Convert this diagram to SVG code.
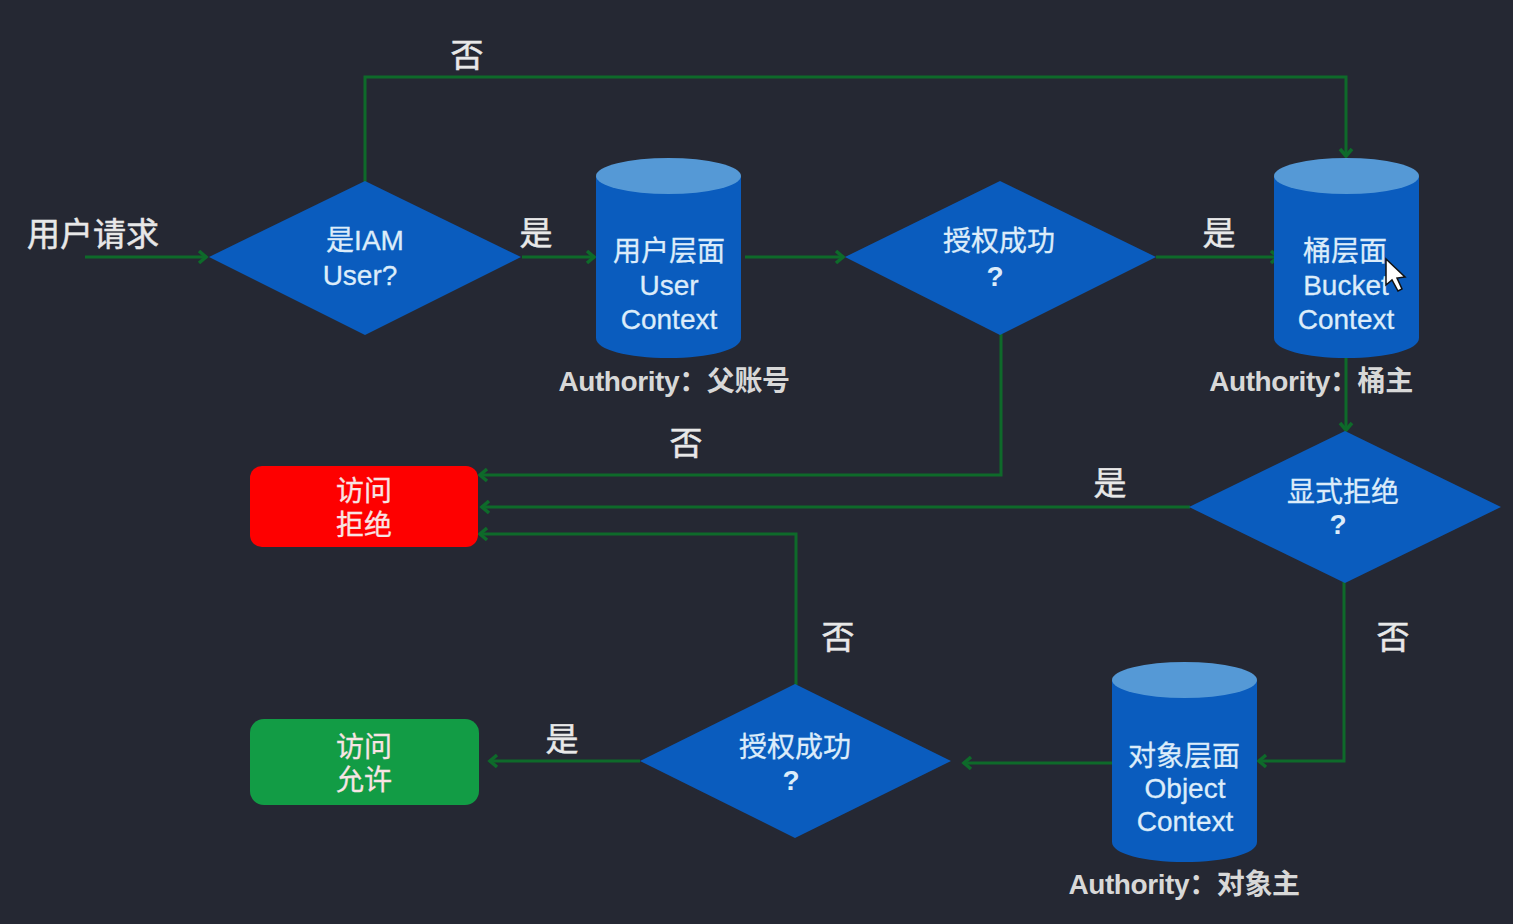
<svg xmlns="http://www.w3.org/2000/svg" width="1513" height="924" viewBox="0 0 1513 924">
<style>
text{font-family:"Liberation Sans","Noto Sans CJK SC",sans-serif;text-anchor:middle}
.n{font-size:28px;fill:#dcecfa;stroke:#dcecfa;stroke-width:.3px}
.w{font-size:28px;fill:#f8e4e4;stroke:#f8e4e4;stroke-width:.3px}
.l{font-size:33px;fill:#e8e8e8;stroke:#e8e8e8;stroke-width:.5px}
.q{font-size:28px;font-weight:bold;fill:#dcecfa}
.a{font-size:28px;fill:#d8d8d8;font-weight:bold;letter-spacing:-.4px}
.d{fill:#0a5cbe}
.t{fill:#5599d6}
.c{fill:none;stroke:#0e6a2a;stroke-width:3}
</style>
<defs>
<marker id="ah" markerUnits="userSpaceOnUse" markerWidth="14" markerHeight="16" refX="12" refY="8" orient="auto"><path d="M4 2L11 8L4 14" fill="none" stroke="#0e6a2a" stroke-width="3.500"/></marker>
<g id="cyl"><path class="d" d="M0 18V180C0 192 32 200 72.500 200S145 192 145 180V18Z"/><ellipse class="t" cx="72.500" cy="18" rx="72.500" ry="18"/></g>
</defs>
<rect width="1513" height="924" fill="#252833"/>
<g id="connectors">
<path class="c" marker-end="url(#ah)" d="M85 257H207"/>
<path class="c" marker-end="url(#ah)" d="M365 182V77H1346V157"/>
<path class="c" marker-end="url(#ah)" d="M522 257H595"/>
<path class="c" marker-end="url(#ah)" d="M745 257H844"/>
<path class="c" marker-end="url(#ah)" d="M1156 257H1279"/>
<path class="c" marker-end="url(#ah)" d="M1001 334V475H479"/>
<path class="c" marker-end="url(#ah)" d="M1346 358V431"/>
<path class="c" marker-end="url(#ah)" d="M1190 507H481"/>
<path class="c" marker-end="url(#ah)" d="M796 685V534H479"/>
<path class="c" marker-end="url(#ah)" d="M1344 582V761H1258"/>
<path class="c" marker-end="url(#ah)" d="M1112 763H963"/>
<path class="c" marker-end="url(#ah)" d="M640 761H489"/>
</g>
<g id="start"><text class="l" x="93" y="246">用户请求</text></g>
<g id="d1"><path class="d" d="M365 181L521 257L365 335L209 257Z"/><text class="n" x="365" y="250">是IAM</text><text class="n" x="360" y="285">User?</text></g>
<g id="user"><use href="#cyl" x="596" y="158"/><text class="n" x="669" y="261">用户层面</text><text class="n" x="669" y="295">User</text><text class="n" x="669" y="329">Context</text><text class="a" x="674" y="391">Authority：父账号</text></g>
<g id="d2"><path class="d" d="M1000 181L1156 257L1000 335L845 257Z"/><text class="n" x="999" y="251">授权成功</text><text class="q" x="995" y="286">?</text></g>
<g id="bucket"><use href="#cyl" x="1274" y="158"/><text class="n" x="1345" y="261">桶层面</text><text class="n" x="1346" y="295">Bucket</text><text class="n" x="1346" y="329">Context</text><text class="a" x="1311" y="391">Authority：桶主</text><path d="M1386 259L1386 285L1392 280L1398 291L1402 289L1397 278L1405 277Z" fill="#fff" stroke="#111" stroke-width="1.500"/></g>
<g id="deny"><rect x="250" y="466" width="228" height="81" rx="12" fill="#fe0000"/><text class="w" x="364" y="501">访问</text><text class="w" x="364" y="535">拒绝</text></g>
<g id="d3"><path class="d" d="M1345 431L1501 507L1345 583L1189 507Z"/><text class="n" x="1343" y="502">显式拒绝</text><text class="q" x="1338" y="534">?</text></g>
<g id="object"><use href="#cyl" x="1112" y="662"/><text class="n" x="1184" y="766">对象层面</text><text class="n" x="1185" y="798">Object</text><text class="n" x="1185" y="831">Context</text><text class="a" x="1184" y="894">Authority：对象主</text></g>
<g id="d4"><path class="d" d="M795 684L951 761L795 838L640 761Z"/><text class="n" x="795" y="757">授权成功</text><text class="q" x="791" y="790">?</text></g>
<g id="allow"><rect x="250" y="719" width="229" height="86" rx="14" fill="#129c45"/><text class="w" x="364" y="757">访问</text><text class="w" x="364" y="790">允许</text></g>
<g id="labels">
<text class="l" x="467" y="67">否</text><text class="l" x="536" y="245">是</text><text class="l" x="1219" y="245">是</text><text class="l" x="686" y="455">否</text><text class="l" x="1110" y="495">是</text><text class="l" x="838" y="649">否</text><text class="l" x="1393" y="649">否</text><text class="l" x="562" y="751">是</text>
</g>
</svg>
